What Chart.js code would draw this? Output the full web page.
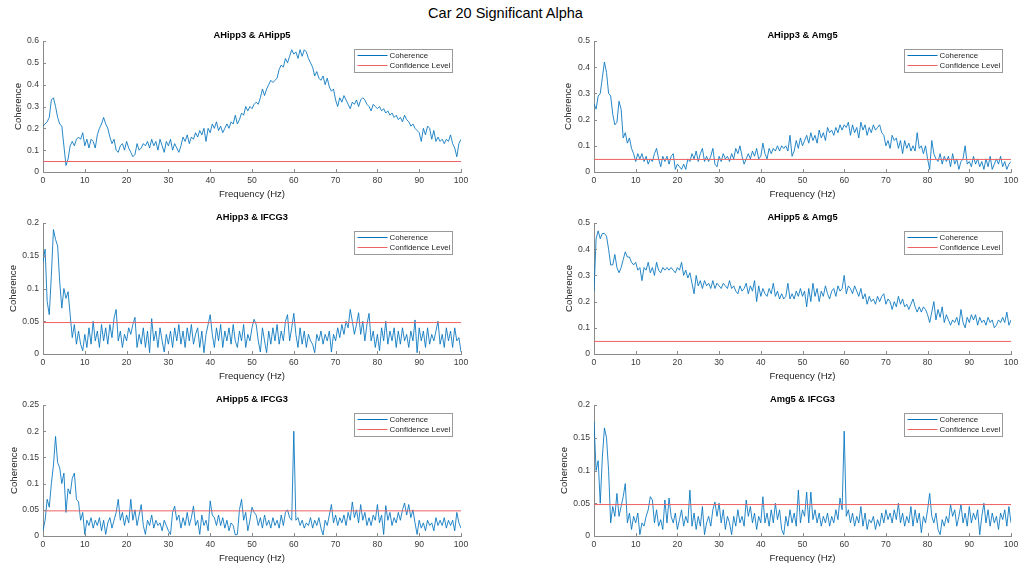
<!DOCTYPE html>
<html>
<head>
<meta charset="utf-8">
<script src="https://cdn.jsdelivr.net/npm/chart.js"></script>
<style>
html,body{margin:0;padding:0;background:#fff;}
body{width:1019px;height:569px;position:relative;overflow:hidden;font-family:"Liberation Sans",Arial,sans-serif;}
#suptitle{position:absolute;left:0;width:1011px;top:5px;text-align:center;font-size:14.5px;line-height:17px;color:#000;}
canvas{position:absolute;}
</style>
</head>
<body>
<div id="suptitle"></div>
<script>
// ---------------- DATA ----------------
const mainTitle = 'Car 20 Significant Alpha';
const seriesLabels = ['Coherence', 'Confidence Level'];
const xAxisLabel = 'Frequency (Hz)';
const yAxisLabel = 'Coherence';
const pairTitles = ['AHipp3 & AHipp5', 'AHipp3 & Amg5', 'AHipp3 & IFCG3', 'AHipp5 & Amg5', 'AHipp5 & IFCG3', 'Amg5 & IFCG3'];
const yMaxes = [0.6, 0.5, 0.2, 0.5, 0.25, 0.2];
const yTickSteps = [0.1, 0.1, 0.05, 0.1, 0.05, 0.05];
const xMin = 0, xMax = 100, xTickStep = 10;
const freqStepHz = 0.5; // spacing of the frequency grid (0, 0.5, ... 100 Hz)
const confidenceLevel = 0.048;

const cohAHipp3AHipp5 = [
0.21,0.22,0.23,0.25,0.33,0.34,0.30,0.25,0.22,0.21,0.12,0.03,0.06,0.12,0.14,0.12,0.15,0.16,0.15,0.18,
0.12,0.15,0.11,0.15,0.14,0.11,0.17,0.20,0.22,0.25,0.22,0.20,0.16,0.13,0.15,0.10,0.09,0.12,0.13,0.10,
0.14,0.11,0.09,0.07,0.08,0.13,0.10,0.11,0.13,0.12,0.14,0.11,0.15,0.12,0.14,0.10,0.15,0.12,0.09,0.14,
0.12,0.15,0.10,0.13,0.11,0.09,0.12,0.16,0.14,0.17,0.13,0.16,0.15,0.18,0.16,0.19,0.17,0.20,0.14,0.20,
0.18,0.22,0.20,0.23,0.19,0.21,0.18,0.20,0.22,0.20,0.23,0.22,0.26,0.22,0.24,0.27,0.26,0.30,0.28,0.30,
0.29,0.31,0.32,0.31,0.34,0.38,0.35,0.38,0.40,0.42,0.41,0.42,0.43,0.47,0.49,0.48,0.52,0.50,0.53,0.56,
0.54,0.55,0.52,0.56,0.53,0.56,0.55,0.52,0.50,0.48,0.44,0.46,0.43,0.42,0.44,0.40,0.43,0.39,0.37,0.38,
0.33,0.30,0.34,0.32,0.35,0.33,0.31,0.29,0.32,0.31,0.33,0.30,0.33,0.34,0.33,0.31,0.30,0.28,0.31,0.30,
0.29,0.30,0.28,0.29,0.27,0.28,0.26,0.27,0.25,0.26,0.24,0.25,0.23,0.26,0.24,0.23,0.21,0.22,0.20,0.19,
0.18,0.14,0.20,0.17,0.21,0.20,0.15,0.19,0.14,0.16,0.14,0.15,0.13,0.15,0.14,0.17,0.13,0.11,0.07,0.13,
0.15];

const cohAHipp3Amg5 = [
0.26,0.24,0.29,0.30,0.36,0.42,0.38,0.30,0.29,0.22,0.18,0.19,0.27,0.24,0.13,0.15,0.11,0.13,0.09,0.07,
0.04,0.07,0.05,0.07,0.04,0.06,0.03,0.05,0.04,0.07,0.09,0.05,0.02,0.06,0.04,0.06,0.03,0.06,0.07,0.01,
0.03,0.02,0.01,0.03,0.01,0.05,0.04,0.07,0.05,0.08,0.04,0.07,0.09,0.04,0.06,0.04,0.06,0.09,0.03,0.02,
0.06,0.04,0.07,0.05,0.06,0.04,0.07,0.05,0.09,0.07,0.10,0.06,0.03,0.05,0.07,0.05,0.08,0.06,0.09,0.05,
0.06,0.11,0.07,0.05,0.09,0.07,0.09,0.08,0.10,0.08,0.10,0.09,0.10,0.08,0.14,0.06,0.08,0.12,0.09,0.13,
0.10,0.12,0.14,0.11,0.15,0.12,0.14,0.11,0.16,0.13,0.15,0.12,0.17,0.15,0.16,0.14,0.17,0.15,0.18,0.16,
0.18,0.17,0.19,0.14,0.18,0.15,0.17,0.13,0.19,0.16,0.18,0.14,0.17,0.15,0.18,0.16,0.17,0.18,0.15,0.14,
0.10,0.12,0.09,0.14,0.12,0.13,0.09,0.12,0.07,0.12,0.09,0.11,0.08,0.10,0.08,0.15,0.09,0.10,0.07,0.10,
0.05,0.01,0.12,0.07,0.05,0.04,0.07,0.03,0.06,0.04,0.06,0.02,0.07,0.03,0.05,0.01,0.04,0.05,0.10,0.03,
0.04,0.02,0.06,0.03,0.05,0.02,0.04,0.01,0.05,0.02,0.06,0.01,0.03,0.05,0.03,0.06,0.02,0.04,0.01,0.03,
0.04];

const cohAHipp3IFCG3 = [
0.14,0.16,0.08,0.06,0.12,0.19,0.175,0.165,0.11,0.07,0.10,0.085,0.095,0.06,0.025,0.045,0.015,0.035,0.015,0.005,
0.03,0.01,0.04,0.015,0.05,0.02,0.035,0.01,0.045,0.02,0.04,0.015,0.045,0.025,0.055,0.068,0.02,0.035,0.01,0.03,
0.02,0.04,0.03,0.045,0.056,0.01,0.03,0.015,0.04,0.01,0.035,0.002,0.054,0.02,0.035,0.01,0.04,0.02,0.003,0.03,
0.015,0.035,0.01,0.04,0.02,0.045,0.015,0.035,0.01,0.04,0.02,0.045,0.015,0.03,0.04,0.01,0.035,0.002,0.03,0.045,
0.06,0.03,0.01,0.04,0.02,0.045,0.01,0.035,0.02,0.04,0.015,0.045,0.02,0.01,0.035,0.02,0.045,0.01,0.03,0.02,
0.04,0.053,0.045,0.02,0.003,0.04,0.02,0.002,0.035,0.015,0.04,0.02,0.045,0.015,0.035,0.02,0.05,0.06,0.02,0.04,
0.062,0.03,0.01,0.04,0.015,0.035,0.01,0.03,0.02,0.015,0.002,0.03,0.02,0.035,0.015,0.03,0.02,0.035,0.003,0.03,
0.02,0.04,0.025,0.045,0.03,0.05,0.04,0.068,0.05,0.03,0.045,0.063,0.03,0.05,0.02,0.045,0.062,0.02,0.035,0.01,
0.03,0.005,0.04,0.02,0.05,0.015,0.035,0.02,0.04,0.01,0.035,0.015,0.04,0.02,0.03,0.01,0.035,0.02,0.052,0.002,
0.04,0.02,0.035,0.01,0.04,0.015,0.03,0.02,0.035,0.05,0.015,0.03,0.01,0.04,0.02,0.035,0.01,0.04,0.02,0.025,
0.003];

const cohAHipp5Amg5 = [
0.24,0.44,0.47,0.44,0.46,0.46,0.45,0.40,0.34,0.34,0.38,0.33,0.31,0.33,0.36,0.39,0.37,0.37,0.35,0.34,
0.35,0.32,0.33,0.28,0.33,0.32,0.35,0.31,0.33,0.30,0.35,0.32,0.31,0.33,0.32,0.33,0.32,0.33,0.32,0.31,
0.33,0.32,0.35,0.30,0.32,0.29,0.31,0.27,0.23,0.30,0.26,0.28,0.25,0.28,0.26,0.27,0.25,0.28,0.25,0.27,
0.26,0.25,0.27,0.26,0.25,0.28,0.25,0.26,0.24,0.23,0.26,0.24,0.25,0.27,0.23,0.26,0.24,0.28,0.20,0.26,
0.22,0.25,0.23,0.22,0.25,0.23,0.27,0.22,0.24,0.21,0.23,0.21,0.22,0.27,0.21,0.23,0.21,0.24,0.22,0.25,
0.22,0.24,0.18,0.25,0.20,0.27,0.22,0.25,0.20,0.24,0.22,0.26,0.23,0.21,0.24,0.25,0.22,0.26,0.24,0.25,
0.30,0.23,0.26,0.25,0.23,0.26,0.24,0.22,0.25,0.21,0.23,0.19,0.22,0.20,0.21,0.19,0.22,0.20,0.22,0.23,
0.19,0.21,0.20,0.17,0.20,0.18,0.22,0.19,0.21,0.18,0.19,0.17,0.19,0.21,0.18,0.16,0.18,0.16,0.18,0.17,
0.15,0.12,0.16,0.20,0.13,0.17,0.14,0.18,0.12,0.15,0.13,0.11,0.13,0.12,0.14,0.11,0.17,0.12,0.10,0.14,
0.12,0.15,0.13,0.15,0.11,0.14,0.12,0.13,0.11,0.14,0.12,0.13,0.10,0.11,0.13,0.12,0.14,0.12,0.16,0.11,
0.13];

const cohAHipp5IFCG3 = [
0.01,0.03,0.07,0.055,0.10,0.135,0.19,0.14,0.13,0.10,0.12,0.045,0.09,0.08,0.11,0.12,0.07,0.065,0.03,0.045,
0.003,0.03,0.02,0.035,0.015,0.03,0.02,0.035,0.01,0.03,0.003,0.025,0.035,0.015,0.03,0.045,0.07,0.03,0.045,0.02,
0.04,0.025,0.07,0.03,0.05,0.02,0.04,0.06,0.02,0.003,0.03,0.02,0.04,0.015,0.03,0.02,0.025,0.01,0.03,0.02,
0.01,0.003,0.045,0.057,0.03,0.04,0.015,0.035,0.02,0.045,0.02,0.035,0.057,0.02,0.03,0.003,0.04,0.02,0.03,0.01,
0.067,0.04,0.035,0.02,0.04,0.02,0.035,0.015,0.03,0.01,0.025,0.02,0.002,0.003,0.05,0.07,0.03,0.045,0.01,0.03,
0.055,0.045,0.04,0.02,0.035,0.015,0.04,0.02,0.03,0.015,0.035,0.02,0.03,0.015,0.04,0.02,0.045,0.05,0.035,0.03,
0.20,0.03,0.035,0.02,0.03,0.015,0.025,0.02,0.035,0.015,0.03,0.02,0.035,0.015,0.002,0.03,0.02,0.04,0.06,0.025,
0.04,0.02,0.035,0.025,0.04,0.02,0.045,0.03,0.065,0.035,0.05,0.025,0.06,0.03,0.045,0.02,0.035,0.02,0.04,0.03,
0.06,0.025,0.04,0.003,0.058,0.03,0.045,0.02,0.035,0.025,0.045,0.03,0.05,0.063,0.04,0.06,0.035,0.05,0.025,0.003,
0.03,0.015,0.025,0.01,0.03,0.02,0.025,0.01,0.035,0.02,0.03,0.02,0.035,0.015,0.03,0.02,0.03,0.01,0.045,0.025,
0.015];

const cohAmg5IFCG3 = [
0.175,0.10,0.115,0.05,0.12,0.165,0.15,0.10,0.02,0.045,0.03,0.065,0.03,0.045,0.06,0.08,0.02,0.035,0.01,0.03,
0.02,0.035,0.002,0.02,0.015,0.03,0.04,0.06,0.055,0.02,0.04,0.015,0.025,0.01,0.055,0.02,0.058,0.03,0.02,0.035,
0.01,0.025,0.04,0.015,0.03,0.02,0.07,0.015,0.035,0.01,0.03,0.015,0.045,0.002,0.02,0.03,0.015,0.04,0.052,0.03,
0.05,0.02,0.04,0.01,0.03,0.02,0.002,0.03,0.015,0.04,0.02,0.03,0.015,0.055,0.03,0.045,0.02,0.035,0.01,0.03,
0.02,0.06,0.02,0.035,0.015,0.04,0.02,0.05,0.025,0.04,0.01,0.002,0.03,0.015,0.04,0.02,0.035,0.015,0.07,0.02,
0.04,0.03,0.067,0.02,0.067,0.025,0.04,0.02,0.035,0.015,0.03,0.02,0.035,0.015,0.03,0.02,0.04,0.025,0.058,0.04,
0.16,0.03,0.04,0.02,0.035,0.015,0.03,0.02,0.045,0.015,0.035,0.01,0.025,0.02,0.03,0.01,0.025,0.015,0.035,0.02,
0.04,0.025,0.035,0.02,0.04,0.025,0.05,0.02,0.035,0.015,0.03,0.02,0.045,0.015,0.04,0.02,0.035,0.005,0.03,0.02,
0.04,0.065,0.03,0.02,0.035,0.01,0.002,0.025,0.015,0.03,0.02,0.048,0.03,0.04,0.015,0.03,0.048,0.02,0.035,0.015,
0.045,0.02,0.035,0.025,0.04,0.002,0.03,0.05,0.02,0.04,0.015,0.035,0.02,0.03,0.01,0.035,0.025,0.04,0.015,0.045,
0.02];

const coherenceSeries = [cohAHipp3AHipp5, cohAHipp3Amg5, cohAHipp3IFCG3, cohAHipp5Amg5, cohAHipp5IFCG3, cohAmg5IFCG3];

// ---------------- LAYOUT / STYLE ----------------
const FONT = '"Liberation Sans", Arial, Helvetica, sans-serif';
const BLUE = '#0072BD';
const RED = '#ee6262';
const AXIS = '#8a8a8a';
const TEXT = '#3a3a3a';
const colGeom = [{L: 43, R: 461}, {L: 594, R: 1011}];
const rowGeom = [{T: 41, B: 172}, {T: 223, B: 354}, {T: 405, B: 536}];
const yTitleCenterX = [19, 569, 14, 569.5, 14.5, 564.5];
const TOP_PAD = 30, X_AXIS_H = 28, RIGHT_PAD = 12, Y_TITLE_HALF = 5.76;

document.getElementById('suptitle').textContent = mainTitle;

const decorPlugin = {
  id: 'matlabDecor',
  afterDraw(chart, args, opts) {
    const ctx = chart.ctx;
    const ca = chart.chartArea;
    const xs = chart.scales.x, ys = chart.scales.y;
    ctx.save();
    // inward tick marks
    ctx.strokeStyle = AXIS;
    ctx.lineWidth = 1;
    ctx.beginPath();
    xs.ticks.forEach(t => {
      const px = Math.round(xs.getPixelForValue(t.value)) + 0.5;
      ctx.moveTo(px, ca.bottom); ctx.lineTo(px, ca.bottom - 3);
    });
    ys.ticks.forEach(t => {
      const py = Math.round(ys.getPixelForValue(t.value)) + 0.5;
      ctx.moveTo(ca.left, py); ctx.lineTo(ca.left + 3, py);
    });
    ctx.stroke();
    // subplot title
    ctx.fillStyle = '#000';
    ctx.font = 'bold 9.3px ' + FONT;
    ctx.textAlign = 'center';
    ctx.textBaseline = 'middle';
    ctx.fillText(opts.title, (ca.left + ca.right) / 2, ca.top - 6);
    // legend box
    const bw = 98, bh = 23;
    const bx = Math.round(ca.right - 9 - bw) + 0.5;
    const by = Math.round(ca.top + 8) + 0.5;
    ctx.fillStyle = '#fff';
    ctx.fillRect(bx, by, bw, bh);
    ctx.strokeStyle = '#9a9a9a';
    ctx.strokeRect(bx, by, bw, bh);
    ctx.font = '7.9px ' + FONT;
    ctx.textAlign = 'left';
    chart.data.datasets.forEach((ds, i) => {
      const ly = by + 6 + i * 10;
      ctx.strokeStyle = ds.borderColor;
      ctx.lineWidth = 1;
      ctx.beginPath();
      ctx.moveTo(bx + 3, ly); ctx.lineTo(bx + 33, ly);
      ctx.stroke();
      ctx.fillStyle = '#262626';
      ctx.fillText(ds.label, bx + 35, ly + 0.5);
    });
    ctx.restore();
  }
};

function fmtTick(v) { return String(+Number(v).toFixed(2)); }

coherenceSeries.forEach((values, k) => {
  const row = Math.floor(k / 2), col = k % 2;
  const {L, R} = colGeom[col];
  const {T, B} = rowGeom[row];
  const cl = Math.round(yTitleCenterX[k] - Y_TITLE_HALF);
  const ct = T - TOP_PAD;
  const yAxisW = L - cl;
  const cw = R - cl + RIGHT_PAD;
  const ch = TOP_PAD + (B - T) + X_AXIS_H;

  const canvas = document.createElement('canvas');
  canvas.width = cw; canvas.height = ch;
  canvas.style.left = cl + 'px'; canvas.style.top = ct + 'px';
  canvas.style.width = cw + 'px'; canvas.style.height = ch + 'px';
  document.body.appendChild(canvas);

  const cohPoints = values.map((v, i) => ({x: i * freqStepHz, y: v}));
  const confPoints = [{x: xMin, y: confidenceLevel}, {x: xMax, y: confidenceLevel}];

  new Chart(canvas, {
    type: 'line',
    data: {
      datasets: [
        {label: seriesLabels[0], data: cohPoints, borderColor: BLUE, borderWidth: 0.85, pointRadius: 0, tension: 0, order: 1},
        {label: seriesLabels[1], data: confPoints, borderColor: RED, borderWidth: 1, pointRadius: 0, tension: 0, order: 0}
      ]
    },
    options: {
      responsive: false,
      animation: false,
      devicePixelRatio: 1,
      layout: {padding: {left: 0, top: TOP_PAD, right: RIGHT_PAD, bottom: 0}},
      plugins: {
        legend: {display: false},
        title: {display: false},
        tooltip: {enabled: false},
        matlabDecor: {title: pairTitles[k]}
      },
      scales: {
        x: {
          type: 'linear', min: xMin, max: xMax,
          afterFit(s) { s.height = X_AXIS_H; s.paddingLeft = 0; s.paddingRight = 0; },
          ticks: {stepSize: xTickStep, autoSkip: false, maxRotation: 0, padding: 3, color: TEXT, font: {family: FONT, size: 8.6}},
          grid: {display: false, drawTicks: false, tickLength: 0},
          border: {display: true, color: AXIS, width: 1},
          title: {display: true, text: xAxisLabel, color: '#262626', padding: 0, font: {family: FONT, size: 9.6}}
        },
        y: {
          type: 'linear', min: 0, max: yMaxes[k],
          afterFit(s) { s.width = yAxisW; s.paddingTop = 0; s.paddingBottom = 0; },
          ticks: {stepSize: yTickSteps[k], autoSkip: false, padding: 4, color: TEXT, font: {family: FONT, size: 8.6}, callback: fmtTick},
          grid: {display: false, drawTicks: false, tickLength: 0},
          border: {display: true, color: AXIS, width: 1},
          title: {display: true, text: yAxisLabel, color: '#262626', padding: 0, font: {family: FONT, size: 9.6}}
        }
      }
    },
    plugins: [decorPlugin]
  });
});
</script>
</body>
</html>
